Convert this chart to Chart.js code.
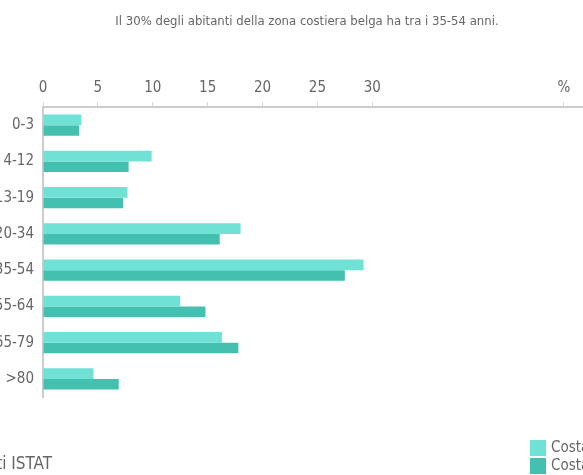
<!DOCTYPE html>
<html>
<head>
<meta charset="utf-8">
<script src="https://cdn.jsdelivr.net/npm/chart.js@4/dist/chart.umd.min.js"></script>
<style>
  html, body { margin: 0; padding: 0; background: #fff; overflow: hidden; }
  body { width: 583px; height: 475px; position: relative; }
  /* the original picture is cropped at both sides, so the canvas runs past the window */
  #wrap { position: absolute; left: -25px; top: 0; width: 664px; height: 475px; }
</style>
</head>
<body>
<div id="wrap"><canvas id="ageChart"></canvas></div>
<script>
// --- data ---
const ageGroups = ["0-3", "4-12", "13-19", "20-34", "35-54", "55-64", "65-79", ">80"];
const costaBelga = [3.5, 9.9, 7.7, 18.0, 29.2, 12.5, 16.3, 4.6];
const costaItaliana = [3.3, 7.8, 7.3, 16.1, 27.5, 14.8, 17.8, 6.9];
const seriesNames = ["Costa belga", "Costa italiana"];
const xTicks = [0, 5, 10, 15, 20, 25, 30];
const unitTickAt = 47.45; // where the "%" label sits on the axis
const axisMax = 54.3;

const FONT = "'DejaVu Sans Condensed', 'DejaVu Sans', sans-serif";
const GREY = "#666";

// small stacked legend at the bottom right
const sideLegend = {
    id: "sideLegend",
    afterDraw(chart) {
        const ctx = chart.ctx;
        ctx.save();
        ctx.font = "condensed 300 15px " + FONT;
        ctx.textBaseline = "middle";
        chart.data.datasets.forEach((ds, i) => {
            const y = 440 + i * 18;
            ctx.fillStyle = ds.backgroundColor;
            ctx.fillRect(555, y, 16, 16);
            ctx.fillStyle = GREY;
            ctx.fillText(ds.label, 576, y + 8);
        });
        ctx.restore();
    }
};

new Chart(document.getElementById("ageChart"), {
    type: "bar",
    data: {
        labels: ageGroups,
        datasets: [
            { label: seriesNames[0], data: costaBelga, backgroundColor: "#6fe2d5" },
            { label: seriesNames[1], data: costaItaliana, backgroundColor: "#44c0b0" }
        ]
    },
    options: {
        indexAxis: "y",
        responsive: true,
        maintainAspectRatio: false,
        animation: false,
        categoryPercentage: 0.58,
        barPercentage: 1,
        layout: { padding: 0 },
        plugins: {
            legend: { display: false },
            tooltip: { enabled: false },
            title: {
                display: true,
                text: "Il 30% degli abitanti della zona costiera belga ha tra i 35-54 anni.",
                color: GREY,
                font: { family: FONT, style: "condensed", size: 13, weight: 300, lineHeight: 1.2 },
                padding: { top: 14, bottom: 1 }
            },
            subtitle: {
                display: true,
                position: "bottom",
                align: "start",
                text: "Dati ISTAT",
                color: GREY,
                font: { family: FONT, style: "condensed", size: 17, weight: 300, lineHeight: 1.2 },
                padding: { top: 57.6, bottom: 0 }
            }
        },
        scales: {
            x: {
                position: "top",
                min: 0,
                max: axisMax,
                afterBuildTicks: scale => {
                    scale.ticks = xTicks.concat([unitTickAt]).map(v => ({ value: v }));
                },
                afterFit: scale => { scale.height = 107 - 30.6; },
                ticks: {
                    color: GREY,
                    font: { family: FONT, style: "condensed", size: 15, weight: 300 },
                    padding: 5,
                    maxRotation: 0,
                    autoSkip: false,
                    callback: v => (v === unitTickAt ? "%" : v)
                },
                grid: { drawOnChartArea: false, tickLength: 5, color: "#d6d6d6" },
                border: { color: "#cccccc", width: 2 }
            },
            y: {
                afterFit: scale => { scale.width = 68; },
                ticks: {
                    color: GREY,
                    font: { family: FONT, style: "condensed", size: 15, weight: 300 },
                    padding: 3
                },
                grid: {
                    drawOnChartArea: false,
                    tickLength: 6,
                    color: ctx => (ctx.index === ageGroups.length ? "#cccccc" : "rgba(0,0,0,0)")
                },
                border: { color: "#cccccc", width: 2 }
            }
        }
    },
    plugins: [sideLegend]
});
</script>
</body>
</html>
